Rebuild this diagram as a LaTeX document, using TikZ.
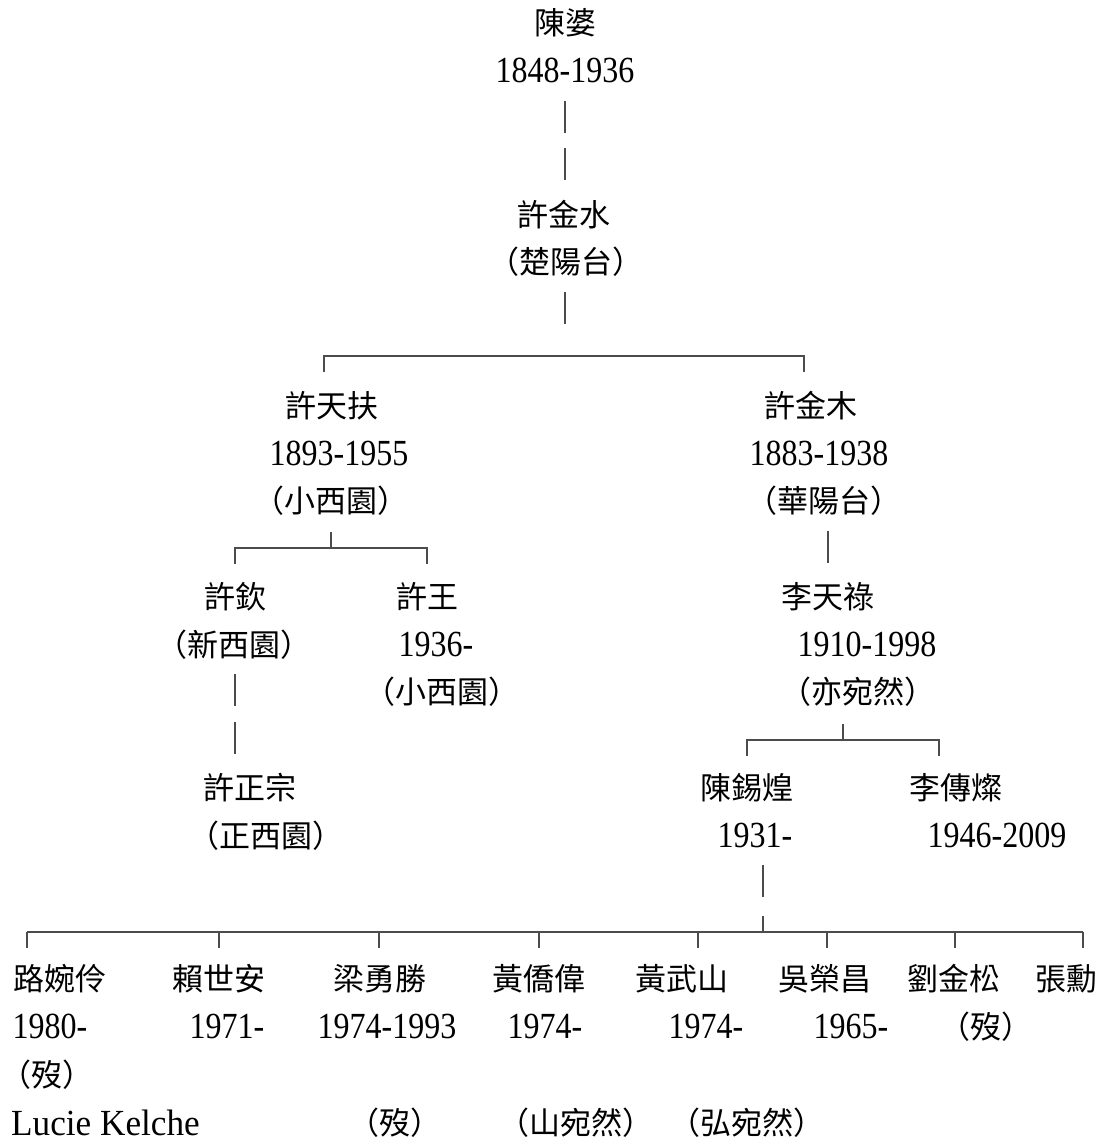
\documentclass[tikz,border=0pt]{standalone}
\usepackage{fontspec}
\usepackage{graphicx}
\setmainfont{Liberation Serif}
\newfontfamily\cjk{Noto Sans CJK TC}
\newcommand{\yy}[1]{\scalebox{1}[1.15]{#1}}
\tikzset{
  cn/.style={inner sep=0pt, font=\cjk\fontsize{31}{31}\selectfont},
  yr/.style={inner sep=0pt, font=\fontsize{32}{32}\selectfont},
  ln/.style={draw=black!70, line width=1.1pt},
}
\begin{document}
\begin{tikzpicture}[x=1pt,y=-1pt]
\useasboundingbox[fill=white] (0,0) rectangle (1104,1145);

% --- generation 0 / 1
\node[cn] (chenpo)   at (565,23)    {陳婆};
\node[yr] (chenpoY)  at (565,70.8)  {\yy{1848-1936}};
\node[cn] (jinshui)  at (564,214.2) {許金水};
\node[cn] (jinshuiT) at (566,262)   {（楚陽台）};

\coordinate (v1a) at (565,100.6); \coordinate (v1b) at (565,132.6);
\coordinate (v2a) at (565,148.4); \coordinate (v2b) at (565,180.4);
\coordinate (v3a) at (565,291.8); \coordinate (v3b) at (565,323.8);
\draw[ln] (v1a) -- (v1b);
\draw[ln] (v2a) -- (v2b);
\draw[ln] (v3a) -- (v3b);

% bracket row 7
\coordinate (b1l) at (324,356); \coordinate (b1r) at (804,356);
\coordinate (b1ld) at (324,372); \coordinate (b1rd) at (804,372);
\draw[ln] (b1ld) -- (b1l) -- (b1r) -- (b1rd);

% --- generation 2
\node[cn] (tianfu)   at (332,405.4) {許天扶};
\node[yr] (tianfuY)  at (339,453.2) {\yy{1893-1955}};
\node[cn] (tianfuT)  at (331,501)   {（小西園）};
\node[cn] (jinmu)    at (811,405.4) {許金木};
\node[yr] (jinmuY)   at (819,453.2) {\yy{1883-1938}};
\node[cn] (jinmuT)   at (824,501)   {（華陽台）};

% bracket row 11 (left)
\coordinate (b2l) at (235,548); \coordinate (b2r) at (427,548);
\coordinate (b2ld) at (235,564); \coordinate (b2rd) at (427,564);
\coordinate (b2m) at (331,548); \coordinate (b2mu) at (331,532);
\draw[ln] (b2ld) -- (b2l) -- (b2r) -- (b2rd);
\draw[ln] (b2mu) -- (b2m);
% right vertical row 11
\coordinate (v4a) at (828,530.8); \coordinate (v4b) at (828,562.8);
\draw[ln] (v4a) -- (v4b);

% --- generation 3
\node[cn] (xuqin)    at (235,596.6) {許欽};
\node[cn] (xuqinT)   at (234,644.4) {（新西園）};
\node[cn] (xuwang)   at (427,596.6) {許王};
\node[yr] (xuwangY)  at (436,644.4) {\yy{1936-}};
\node[cn] (xuwangT)  at (442,692.2) {（小西園）};
\node[cn] (tianlu)   at (828,596.6) {李天祿};
\node[yr] (tianluY)  at (867,644.4) {\yy{1910-1998}};
\node[cn] (tianluT)  at (858,692.2) {（亦宛然）};

\coordinate (v5a) at (235,674.2); \coordinate (v5b) at (235,706.2);
\coordinate (v6a) at (235,722);   \coordinate (v6b) at (235,754);
\draw[ln] (v5a) -- (v5b);
\draw[ln] (v6a) -- (v6b);

% bracket row 15 (right)
\coordinate (b3l) at (747,740); \coordinate (b3r) at (939,740);
\coordinate (b3ld) at (747,756); \coordinate (b3rd) at (939,756);
\coordinate (b3m) at (843,740); \coordinate (b3mu) at (843,724);
\draw[ln] (b3ld) -- (b3l) -- (b3r) -- (b3rd);
\draw[ln] (b3mu) -- (b3m);

% --- generation 4
\node[cn] (zhengzong)  at (250,787.8) {許正宗};
\node[cn] (zhengzongT) at (266,835.6) {（正西園）};
\node[cn] (xihuang)    at (747,787.8) {陳錫煌};
\node[yr] (xihuangY)   at (755,835.6) {\yy{1931-}};
\node[cn] (chuancan)   at (956,787.8) {李傳燦};
\node[yr] (chuancanY)  at (997,835.6) {\yy{1946-2009}};

\coordinate (v7a) at (763,865.4); \coordinate (v7b) at (763,897.4);
\draw[ln] (v7a) -- (v7b);

% bracket row 19
\coordinate (b4l) at (27,932); \coordinate (b4r) at (1083,932);
\coordinate (b4m) at (763,932); \coordinate (b4mu) at (763,916);
\draw[ln] (b4l) -- (b4r);
\draw[ln] (b4mu) -- (b4m);
\foreach \x [count=\i] in {27,219,379,539,698,827,955,1083}{
  \coordinate (t\i a) at (\x,932);
  \coordinate (t\i b) at (\x,948);
  \draw[ln] (t\i a) -- (t\i b);
}

% --- generation 5
\node[cn] (wanling)  at (60,979)   {路婉伶};
\node[cn] (shian)    at (219,979)  {賴世安};
\node[cn] (yongsheng) at (380,979) {梁勇勝};
\node[cn] (qiaowei)  at (539,979)  {黃僑偉};
\node[cn] (wushan)   at (682,979)  {黃武山};
\node[cn] (rongchang) at (825,979) {吳榮昌};
\node[cn] (jinsong)  at (954,979)  {劉金松};
\node[cn] (zhangxun) at (1066,979) {張勳};

\node[yr] (wanlingY)   at (50,1026.8)  {\yy{1980-}};
\node[yr] (shianY)     at (227,1026.8) {\yy{1971-}};
\node[yr] (yongshengY) at (387,1026.8) {\yy{1974-1993}};
\node[yr] (qiaoweiY)   at (545,1026.8) {\yy{1974-}};
\node[yr] (wushanY)    at (706,1026.8) {\yy{1974-}};
\node[yr] (rongchangY) at (851,1026.8) {\yy{1965-}};
\node[cn] (jinsongT)   at (986,1026.8) {（歿）};

\node[cn, anchor=west] (wanlingT) at (0,1074.6) {（歿）};

\node[yr, anchor=west] (lucie) at (11,1122.4) {\scalebox{1.1}[1.15]{Lucie Kelche}};
\node[cn] (yongshengT) at (395,1122.4) {（歿）};
\node[cn] (qiaoweiT)   at (576,1122.4) {（山宛然）};
\node[cn] (wushanT)    at (747,1122.4) {（弘宛然）};
\end{tikzpicture}
\end{document}
